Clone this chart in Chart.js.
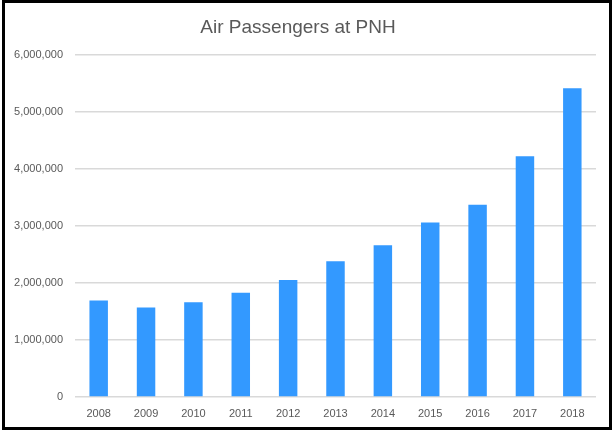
<!DOCTYPE html>
<html>
<head>
<meta charset="utf-8">
<script src="https://cdn.jsdelivr.net/npm/chart.js@4"></script>
<style>
  html, body { margin: 0; padding: 0; background: #fff; }
  #wrap { position: relative; width: 613px; height: 430px; }
  #frame {
    position: absolute; left: 2px; top: 0; width: 610px; height: 430px;
    box-sizing: border-box; border: 3px solid #000; pointer-events: none;
  }
</style>
</head>
<body>
<div id="wrap">
  <canvas id="canvas" width="613" height="430"></canvas>
  <div id="frame"></div>
</div>
<script>
// Años y pasajeros
const years = ['2008', '2009', '2010', '2011', '2012', '2013', '2014', '2015', '2016', '2017', '2018'];
const passengers = [1690000, 1570000, 1660000, 1830000, 2050000, 2380000, 2660000, 3060000, 3370000, 4220000, 5415000];
const yTicks = [0, 1000000, 2000000, 3000000, 4000000, 5000000, 6000000];

const grafico = document.getElementById('canvas');
const gris = '#595959';

new Chart(grafico, {
  type: 'bar',
  data: {
    labels: years,
    datasets: [
      {
        label: 'Air Passengers',
        data: passengers,
        backgroundColor: '#3399ff',
        borderWidth: 0,
        categoryPercentage: 1,
        barPercentage: 0.39,
      },
    ],
  },
  options: {
    responsive: false,
    animation: false,
    layout: { padding: { left: 0, right: 17, top: 0, bottom: 10 } },
    plugins: {
      legend: { display: false },
      tooltip: { enabled: false },
      title: {
        display: true,
        text: 'Air Passengers at PNH',
        color: gris,
        font: { family: 'Liberation Sans', size: 19, weight: 'normal' },
        padding: { top: 16, bottom: 16 },
      },
    },
    scales: {
      x: {
        afterFit: (scale) => {
          scale.height = 23;
        },
        grid: { display: false, drawTicks: false },
        border: { display: false },
        ticks: {
          color: gris,
          padding: 10,
          font: { family: 'Liberation Sans', size: 11 },
        },
      },
      y: {
        min: 0,
        max: 6000000,
        afterBuildTicks: (scale) => {
          scale.ticks = yTicks.map((v) => ({ value: v }));
        },
        afterFit: (scale) => {
          scale.width = 75;
        },
        grid: { color: '#d9d9d9', lineWidth: 1.5, drawTicks: false },
        border: { display: false },
        ticks: {
          color: gris,
          padding: 12,
          font: { family: 'Liberation Sans', size: 11 },
          callback: (v) => v.toLocaleString('en-US'),
        },
      },
    },
  },
});
</script>
</body>
</html>
